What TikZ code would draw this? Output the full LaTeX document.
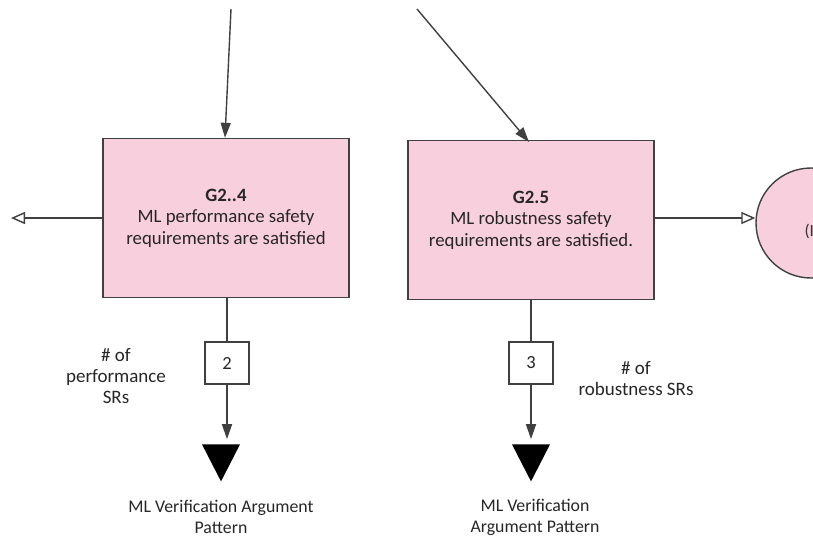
\documentclass[tikz,border=0pt]{standalone}
\usepackage{fontspec}
\setmainfont{Carlito}
\usetikzlibrary{arrows.meta,shapes.geometric}
\definecolor{goalpink}{RGB}{248,207,220}
\definecolor{edge}{RGB}{64,64,64}
\begin{document}
\begin{tikzpicture}[x=1pt,y=-1pt,
  goal/.style={draw=edge,line width=1.4pt,fill=goalpink,minimum width=246pt,minimum height=159pt,inner sep=0pt,align=center,font=\fontsize{18.8}{21.5}\selectfont,text=black!85},
  countbox/.style={draw=edge,line width=1.2pt,fill=white,minimum width=44pt,minimum height=42pt,inner sep=0pt,font=\fontsize{18.5}{20}\selectfont,text=black!85},
  link/.style={draw=edge,line width=1.4pt},
  solidarrow/.style={link,-{Triangle[length=15pt,width=10pt]}},
  hollowarrow/.style={link,-{Triangle[open,length=14pt,width=12pt,fill=white]}},
  subpattern/.style={isosceles triangle,isosceles triangle apex angle=60,shape border rotate=-90,fill=black,inner sep=0pt,minimum width=38pt,minimum height=37pt,isosceles triangle stretches},
  lbl/.style={align=center,font=\fontsize{19}{21}\selectfont,text=black!85},
  plbl/.style={align=center,font=\fontsize{17.8}{21}\selectfont,text=black!85}
]
\useasboundingbox (0,0) rectangle (813,539);
\clip (0,0) rectangle (813,539);
% goals
\node[goal] (g24) at (226,218) {\textbf{G2..4}\\ML performance safety\\requirements are satisfied};
\node[goal] (g25) at (531,220) {\textbf{G2.5}\\ML robustness safety\\requirements are satisfied.};
% context circle (cut off)
\node[circle,draw=edge,line width=1.4pt,fill=goalpink,minimum size=110pt] (ctx) at (811,223) {};
\node[anchor=west,font=\fontsize{17}{20}\selectfont,text=black!80] (ctxtxt) at (801,231) {(I};
% incoming
\coordinate (in1) at (231,9);
\coordinate (in2) at (417,9);
\draw[solidarrow] (in1) -- (g24.north -| 225,0);
\draw[solidarrow] (in2) -- (529,142);
% top-right mark
\coordinate (in3a) at (835,-12);
\coordinate (in3b) at (813,23);
\draw[solidarrow] (in3a) -- (in3b);
% left hollow arrow
\coordinate (leftend) at (11,218);
\draw[hollowarrow] (g24.west) -- (leftend);
% right hollow arrow into circle
\draw[hollowarrow] (g25.east |- 0,218) -- (ctx.west |- 0,218);
% count boxes
\node[countbox] (c2) at (227,363) {2};
\node[countbox] (c3) at (531,363) {3};
\draw[link] (g24.south -| c2) -- (c2.north);
\draw[link] (g25.south) -- (c3.north);
% triangles
\node[subpattern] (t1) at (221,456) {};
\node[subpattern] (t2) at (531,456) {};
\draw[solidarrow,shorten >=5pt] (c2.south) -- (c2.south |- t1.north);
\draw[solidarrow,shorten >=5pt] (c3.south) -- (t2.north);
% labels
\node[lbl] (l1) at (116,376) {\# of\\performance\\SRs};
\node[lbl] (l2) at (636,379) {\# of\\robustness SRs};
\node[plbl] (p1) at (221,517) {ML Verification Argument\\Pattern};
\node[plbl] (p2) at (535,517) {ML Verification\\Argument Pattern};
\end{tikzpicture}
\end{document}
